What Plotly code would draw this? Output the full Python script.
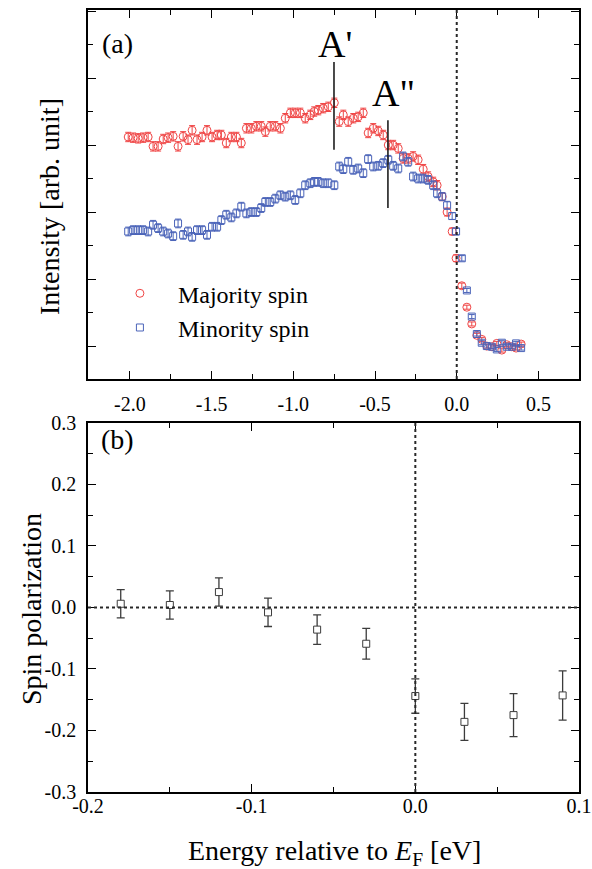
import plotly.graph_objects as go
from plotly.subplots import make_subplots

# ---------------- data: panel (a) ----------------
energy = [-2.010, -1.980, -1.949, -1.919, -1.888, -1.858, -1.827, -1.796, -1.766, -1.735,
          -1.705, -1.674, -1.644, -1.619, -1.589, -1.558, -1.528, -1.497, -1.466, -1.440,
          -1.410, -1.379, -1.348, -1.318, -1.287, -1.257, -1.226, -1.196, -1.171, -1.141,
          -1.110, -1.079, -1.049, -1.018, -0.988, -0.957, -0.927, -0.896, -0.872, -0.847,
          -0.817, -0.786, -0.749, -0.719, -0.694, -0.664, -0.633, -0.603, -0.572, -0.542,
          -0.511, -0.480, -0.450, -0.419, -0.389, -0.358, -0.328, -0.297, -0.267, -0.236,
          -0.205, -0.175, -0.144, -0.120, -0.089, -0.059, -0.028, -0.004, 0.031, 0.062,
          0.092, 0.123, 0.153, 0.184, 0.215, 0.245, 0.276, 0.306, 0.337, 0.363, 0.394]

majority = [3.12, 3.11, 3.10, 3.11, 3.12, 2.98, 2.98, 3.09, 3.11, 3.13,
            2.98, 3.13, 3.08, 3.22, 3.08, 3.12, 3.22, 3.12, 3.15, 3.15,
            3.03, 3.12, 3.12, 3.03, 3.25, 3.25, 3.28, 3.28, 3.20, 3.28,
            3.28, 3.25, 3.40, 3.48, 3.48, 3.48, 3.40, 3.45, 3.50, 3.52,
            3.55, 3.57, 3.63, 3.35, 3.45, 3.35, 3.40, 3.42, 3.48, 3.18,
            3.25, 3.21, 3.15, 3.00, 3.00, 2.95, 2.80, 2.80, 2.83, 2.78,
            2.64, 2.53, 2.45, 2.40, 2.23, 2.00, 1.71, 1.31, 0.90, 0.58,
            0.33, 0.16, 0.10, 0.00, -0.01, 0.04, -0.06, 0.02, -0.01, -0.03, 0.03]

minority = [1.71, 1.73, 1.73, 1.73, 1.71, 1.81, 1.76, 1.71, 1.68, 1.64,
            1.83, 1.66, 1.71, 1.63, 1.73, 1.73, 1.66, 1.78, 1.78, 1.88,
            1.96, 1.92, 1.98, 2.08, 1.98, 2.00, 2.00, 2.06, 2.15, 2.15,
            2.20, 2.25, 2.23, 2.25, 2.18, 2.28, 2.40, 2.43, 2.45, 2.45,
            2.43, 2.43, 2.40, 2.68, 2.64, 2.75, 2.63, 2.65, 2.58, 2.79,
            2.68, 2.69, 2.73, 2.78, 2.69, 2.65, 2.83, 2.75, 2.53, 2.50,
            2.50, 2.48, 2.40, 2.28, 2.23, 2.10, 1.94, 1.71, 1.31, 0.83,
            0.44, 0.18, 0.05, 0.00, -0.01, -0.05, 0.05, -0.01, -0.01, 0.04, -0.03]

majority_err = [0.07, 0.07, 0.07, 0.07, 0.07, 0.07, 0.07, 0.07, 0.07, 0.07,
                0.07, 0.07, 0.07, 0.07, 0.07, 0.07, 0.07, 0.07, 0.07, 0.07,
                0.07, 0.07, 0.07, 0.07, 0.07, 0.07, 0.07, 0.07, 0.07, 0.07,
                0.07, 0.07, 0.07, 0.07, 0.07, 0.07, 0.07, 0.07, 0.07, 0.07,
                0.07, 0.07, 0.07, 0.07, 0.07, 0.07, 0.07, 0.07, 0.07, 0.07,
                0.07, 0.07, 0.07, 0.07, 0.07, 0.07, 0.07, 0.07, 0.07, 0.07,
                0.07, 0.07, 0.07, 0.07, 0.06, 0.06, 0.05, 0.05, 0.04, 0.03,
                0.03, 0.03, 0.03, 0.03, 0.03, 0.03, 0.03, 0.03, 0.03, 0.03, 0.03]

minority_err = [0.065, 0.065, 0.065, 0.065, 0.065, 0.065, 0.065, 0.065, 0.065, 0.065,
                0.065, 0.065, 0.065, 0.065, 0.065, 0.065, 0.065, 0.065, 0.065, 0.065,
                0.065, 0.065, 0.065, 0.065, 0.065, 0.065, 0.065, 0.065, 0.065, 0.065,
                0.065, 0.065, 0.065, 0.065, 0.065, 0.065, 0.065, 0.065, 0.065, 0.065,
                0.065, 0.065, 0.065, 0.065, 0.065, 0.065, 0.065, 0.065, 0.065, 0.065,
                0.065, 0.065, 0.065, 0.065, 0.065, 0.065, 0.065, 0.065, 0.065, 0.065,
                0.065, 0.065, 0.065, 0.065, 0.06, 0.06, 0.05, 0.05, 0.04, 0.03,
                0.03, 0.03, 0.03, 0.03, 0.03, 0.03, 0.03, 0.03, 0.03, 0.03, 0.03]

top_tickvals = [-2.0, -1.5, -1.0, -0.5, 0.0, 0.5]
top_ticktext = ["-2.0", "-1.5", "-1.0", "-0.5", "0.0", "0.5"]

# ---------------- data: panel (b) ----------------
pol_energy = [-0.18, -0.15, -0.12, -0.09, -0.06, -0.03, 0.00, 0.03, 0.06, 0.09]
polarization = [0.006, 0.004, 0.025, -0.008, -0.036, -0.059, -0.144, -0.186, -0.175, -0.143]
polarization_err = [0.023, 0.023, 0.023, 0.023, 0.024, 0.025, 0.028, 0.030, 0.035, 0.040]

bot_xtickvals = [-0.2, -0.1, 0.0, 0.1]
bot_xticktext = ["-0.2", "-0.1", "0.0", "0.1"]
bot_ytickvals = [-0.3, -0.2, -0.1, 0.0, 0.1, 0.2, 0.3]
bot_yticktext = ["-0.3", "-0.2", "-0.1", "0.0", "0.1", "0.2", "0.3"]

# ---------------- styling ----------------
FONT = "Liberation Serif"
RED = "rgb(240,70,70)"
BLUE = "rgb(75,100,185)"
GREY = "rgb(60,60,60)"

fig = make_subplots(rows=2, cols=1, vertical_spacing=0.0)

fig.add_trace(go.Scatter(
    x=energy, y=majority, mode="markers", name="\u00a0\u00a0\u00a0Majority spin",
    marker=dict(symbol="circle-open", size=8, color=RED, line=dict(width=1, color=RED)),
    error_y=dict(type="data", array=majority_err, visible=True, color=RED, thickness=1, width=3),
), row=1, col=1)

fig.add_trace(go.Scatter(
    x=energy, y=minority, mode="markers", name="\u00a0\u00a0\u00a0Minority spin",
    marker=dict(symbol="square-open", size=7, color=BLUE, line=dict(width=1, color=BLUE)),
    error_y=dict(type="data", array=minority_err, visible=True, color=BLUE, thickness=1, width=3),
), row=1, col=1)

fig.add_trace(go.Scatter(
    x=pol_energy, y=polarization, mode="markers", showlegend=False,
    marker=dict(symbol="square", size=7, color="white", line=dict(width=1, color=GREY)),
    error_y=dict(type="data", array=polarization_err, visible=True, color=GREY, thickness=1.3, width=4),
), row=2, col=1)

axis_common = dict(
    showline=True, linecolor="black", linewidth=1.6, mirror="ticks", automargin=False,
    ticks="inside", tickcolor="black", tickwidth=1.4, showgrid=False, zeroline=False,
    tickfont=dict(family=FONT, size=20, color="black"),
)

# top panel axes
fig.update_xaxes(axis_common, row=1, col=1, range=[-2.256, 0.748], tickmode="array",
                 tickvals=top_tickvals, ticktext=top_ticktext, ticklen=8, ticklabelstandoff=6,
                 minor=dict(ticks="inside", dtick=0.25, tick0=0, ticklen=5, tickcolor="black",
                            tickwidth=1.2, showgrid=False),
                 domain=[0, 1])
fig.update_yaxes(axis_common, row=1, col=1, range=[-0.493, 5.015], dtick=1, tick0=0,
                 showticklabels=False, ticklen=8,
                 minor=dict(ticks="inside", dtick=0.5, tick0=0, ticklen=5, tickcolor="black",
                            tickwidth=1.2, showgrid=False),
                 domain=[0.528, 1.0])

# bottom panel axes
fig.update_xaxes(axis_common, row=2, col=1, range=[-0.2, 0.1], tickmode="array",
                 tickvals=bot_xtickvals, ticktext=bot_xticktext, ticklen=8, ticklabelstandoff=-5,
                 minor=dict(ticks="inside", dtick=0.05, tick0=0, ticklen=5, tickcolor="black",
                            tickwidth=1.2, showgrid=False),
                 domain=[0, 1])
fig.update_yaxes(axis_common, row=2, col=1, range=[-0.3, 0.3], tickmode="array",
                 tickvals=bot_ytickvals, ticktext=bot_yticktext, ticklen=8, ticklabelstandoff=6,
                 minor=dict(ticks="inside", dtick=0.05, tick0=0, ticklen=5, tickcolor="black",
                            tickwidth=1.2, showgrid=False),
                 domain=[0.0, 0.472])

# reference dotted lines
fig.add_shape(type="line", xref="x", yref="y domain", x0=0, x1=0, y0=0, y1=1,
              line=dict(color="rgb(40,40,40)", width=2, dash="dot"))
fig.add_shape(type="line", xref="x2", yref="y2 domain", x0=0, x1=0, y0=0, y1=1,
              line=dict(color="rgb(40,40,40)", width=2, dash="dot"))
fig.add_shape(type="line", xref="x2 domain", yref="y2", x0=0, x1=1, y0=0, y1=0,
              line=dict(color="rgb(40,40,40)", width=2, dash="dot"))

# peak markers A' and A''
fig.add_shape(type="line", xref="x", yref="y", x0=-0.751, x1=-0.751, y0=2.93, y1=4.24,
              line=dict(color="rgb(30,30,30)", width=1.6))
fig.add_shape(type="line", xref="x", yref="y", x0=-0.421, x1=-0.421, y0=2.06, y1=3.37,
              line=dict(color="rgb(30,30,30)", width=1.6))

ann_font = dict(family=FONT, color="black")
ctr = dict(showarrow=False, xanchor="center", yanchor="middle")
fig.add_annotation(text="A'", x=-0.742, y=4.515, xref="x", yref="y",
                   font=dict(size=38, **ann_font), **ctr)
fig.add_annotation(text='A"', x=-0.389, y=3.776, xref="x", yref="y",
                   font=dict(size=38, **ann_font), **ctr)
fig.add_annotation(text="(a)", x=0.061, y=0.908, xref="x domain", yref="y domain",
                   font=dict(size=28, **ann_font), **ctr)
fig.add_annotation(text="(b)", x=0.060, y=0.954, xref="x2 domain", yref="y2 domain",
                   font=dict(size=28, **ann_font), **ctr)

# axis titles
fig.add_annotation(text="Intensity [arb. unit]", textangle=-90, x=-0.078, y=0.749,
                   xref="paper", yref="paper", font=dict(size=28, **ann_font), **ctr)
fig.add_annotation(text="Spin polarization", textangle=-90, x=-0.116, y=0.234,
                   xref="paper", yref="paper", font=dict(size=28, **ann_font), **ctr)
fig.add_annotation(text="Energy relative to <i>E</i><sub>F</sub> [eV]", x=0.503, y=-0.077,
                   xref="paper", yref="paper", font=dict(size=28, **ann_font), **ctr)

# plot area in page pixels: x 88..579, y 10..792
fig.update_layout(
    width=592, height=869,
    margin=dict(l=88, r=13, t=10, b=77, autoexpand=False),
    paper_bgcolor="white", plot_bgcolor="white",
    showlegend=True,
    legend=dict(x=0.065, y=0.666, xanchor="left", yanchor="top",
                font=dict(family=FONT, size=24, color="black"),
                bgcolor="rgba(0,0,0,0)", borderwidth=0, tracegroupgap=0),
    font=dict(family=FONT),
)

fig.write_html(
    "out.html",
    config={"displayModeBar": False},
    post_script="document.body.style.margin='0';document.body.style.overflow='hidden';",
)
